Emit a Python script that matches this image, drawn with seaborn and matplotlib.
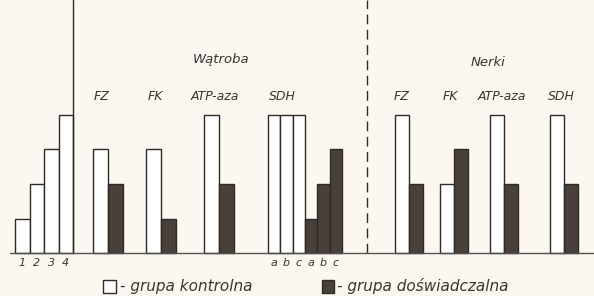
import matplotlib

matplotlib.use("Agg")
import matplotlib.pyplot as plt
import seaborn as sns

# values: levels on the 1-4 scale
scale_labels = ["1", "2", "3", "4"]
scale_levels = [1, 2, 3, 4]
enzymes = ["FZ", "FK", "ATP-aza", "SDH"]
liver_control = [3, 3, 4]
liver_experimental = [2, 1, 2]
sdh_parts = ["a", "b", "c"]
liver_sdh_control = [4, 4, 4]
liver_sdh_experimental = [1, 2, 3]
kidney_control = [4, 2, 4, 4]
kidney_experimental = [2, 3, 2, 2]

BG = "#fcf8f1"
DARK = "#4a403b"
INK = "#2e2a28"
TEXT = "#3a3532"

# layout in pixel units of the 594x296 canvas
BASE_PX = 253
UNIT_PX = 34.5


def lev(py):
    return (BASE_PX - py) / UNIT_PX


sns.set_theme(style="white")
plt.rcParams["font.family"] = ["DejaVu Sans"]

fig = plt.figure(figsize=(5.94, 2.96), dpi=100)
fig.patch.set_facecolor(BG)
ax = fig.add_axes([0, 0, 1, 1])
ax.set_facecolor(BG)
ax.set_xlim(0, 594)
ax.set_ylim(lev(296), lev(0))
ax.axis("off")

bar_kw = dict(align="edge", linewidth=1.0, edgecolor=INK)
label_kw = dict(ha="center", va="center", style="italic", color=TEXT)


def draw(x0, width, values, color):
    lefts = [x0 + i * width for i in range(len(values))]
    ax.bar(lefts, values, width=width, color=color, **bar_kw)
    return [l + width / 2 for l in lefts]


# reference scale on the left
centers = draw(15, 14.5, scale_levels, "white")
for c, t in zip(centers, scale_labels):
    ax.text(c, lev(263), t, fontsize=8, **label_kw)
ax.plot([73, 73], [0, lev(0)], color=INK, lw=1.0)

# liver
pair_w = 15
for x0, ctl, exp_ in zip([93, 146, 204], liver_control, liver_experimental):
    draw(x0, pair_w, [ctl], "white")
    draw(x0 + pair_w, pair_w, [exp_], DARK)
sdh_w = 12.3
c1 = draw(268, sdh_w, liver_sdh_control, "white")
c2 = draw(268 + 3 * sdh_w, sdh_w, liver_sdh_experimental, DARK)
for c, t in zip(c1 + c2, sdh_parts + sdh_parts):
    ax.text(c, lev(263), t, fontsize=8, **label_kw)
for x, name in zip([102, 155, 215, 282], enzymes):
    ax.text(x, lev(97), name, fontsize=9, **label_kw)
ax.text(221, lev(60), "Wątroba", fontsize=9.5, **label_kw)

# separator
ax.plot([367, 367], [0, lev(0)], color=INK, lw=1.0, dashes=(7, 4))

# kidneys
for x0, ctl, exp_ in zip([395, 440, 490, 550], kidney_control,
                         kidney_experimental):
    draw(x0, 14, [ctl], "white")
    draw(x0 + 14, 14, [exp_], DARK)
for x, name in zip([402, 450, 502, 561], enzymes):
    ax.text(x, lev(97), name, fontsize=9, **label_kw)
ax.text(488, lev(63), "Nerki", fontsize=9.5, **label_kw)

# baseline
ax.plot([10, 594], [0, 0], color="#555050", lw=1.0)

# legend
ax.bar([103], [lev(280) - lev(293)], bottom=lev(293), width=13,
       color="white", **bar_kw)
ax.bar([322], [lev(280) - lev(293)], bottom=lev(293), width=12,
       color=DARK, **bar_kw)
ax.text(120, lev(286), "- grupa kontrolna", fontsize=11, ha="left",
        va="center", style="italic", color=TEXT)
ax.text(337, lev(286), "- grupa doświadczalna", fontsize=11, ha="left",
        va="center", style="italic", color=TEXT)

fig.savefig("out.png", dpi=100, facecolor=BG)
